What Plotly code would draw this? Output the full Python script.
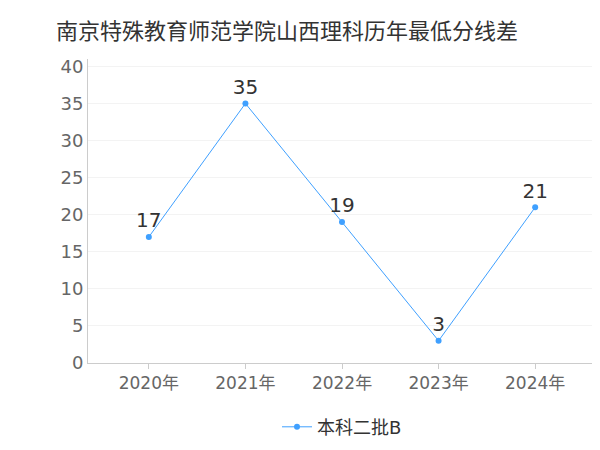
import plotly.graph_objects as go

years = ["2020年", "2021年", "2022年", "2023年", "2024年"]
scores = [17, 35, 19, 3, 21]
series_name = "本科二批B"

font_family = "DejaVu Sans, Noto Sans CJK SC"

fig = go.Figure()
fig.add_trace(go.Scatter(
    x=years, y=scores, mode="lines+markers+text", name=series_name,
    text=[str(v) for v in scores], textposition="top center",
    textfont=dict(size=20, color="#333333"),
    line=dict(color="#3fa0ff", width=1),
    marker=dict(size=6, color="#3fa0ff"),
))

fig.update_layout(
    width=600, height=450,
    font=dict(family=font_family, color="#666666"),
    title=dict(text="南京特殊教育师范学院山西理科历年最低分线差",
               font=dict(size=22, color="#333333"), x=0.08, y=0.965),
    plot_bgcolor="white", paper_bgcolor="white",
    margin=dict(l=80, r=12, t=51, b=82),
    showlegend=True,
    legend=dict(orientation="h", x=0.5, xanchor="center", y=-0.15,
                font=dict(size=18, color="#333333")),
    xaxis=dict(range=[-0.63, 4.63], showline=True, linecolor="#cccccc", tickfont=dict(size=17),
               ticks="outside", ticklen=5, tickcolor="#cccccc", showgrid=False),
    yaxis=dict(range=[0, 41], dtick=5, tickfont=dict(size=18),
               gridcolor="#f3f3f3", zeroline=False, showline=True, linecolor="#cccccc"),
)

fig.write_html("out.html")
